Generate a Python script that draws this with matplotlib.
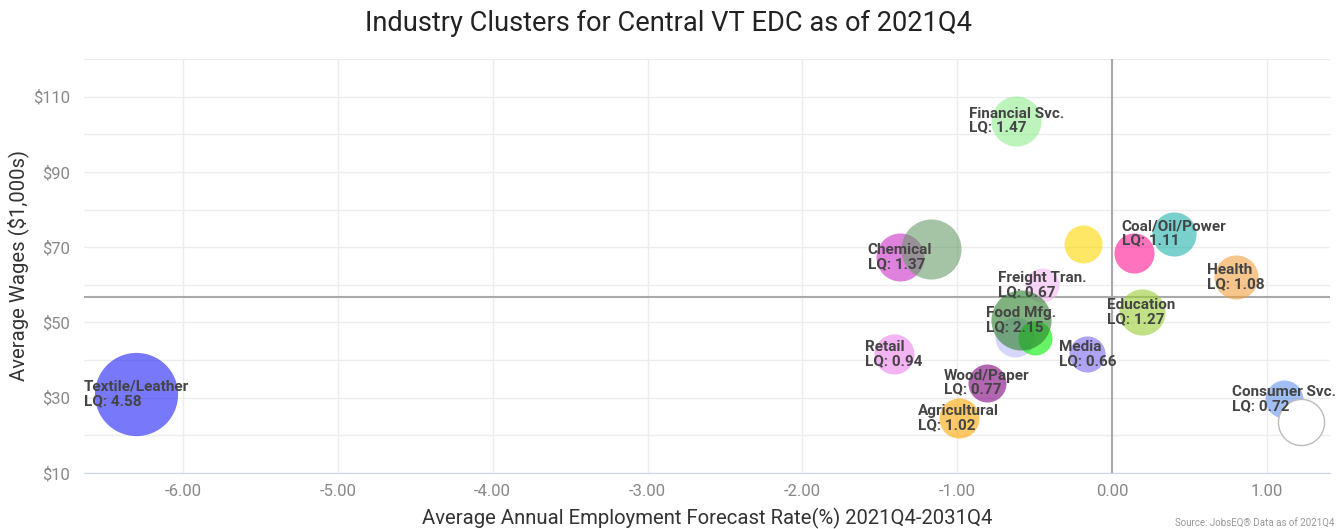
import numpy as np
import matplotlib
matplotlib.use("Agg")
import matplotlib.pyplot as plt
from matplotlib.ticker import FixedLocator, FuncFormatter

plt.rcParams['font.family'] = ['Roboto', 'DejaVu Sans']

# industry clusters: forecast growth (%), average wage ($1,000s), employment, location quotient
clusters = ["Textile/Leather", "Financial Svc.", "Chemical", "", "", "",
            "Coal/Oil/Power", "Health", "Freight Tran.", "", "", "Food Mfg.",
            "Education", "Retail", "Media", "Wood/Paper", "Agricultural",
            "Consumer Svc.", ""]
growth = [-6.30, -0.62, -1.37, -1.17, -0.19, 0.14,
          0.40, 0.80, -0.45, -0.63, -0.50, -0.59,
          0.19, -1.41, -0.16, -0.81, -0.99,
          1.11, 1.22]
wages = [31.0, 103.6, 67.4, 69.6, 70.9, 68.5,
         73.6, 62.1, 60.0, 46.2, 45.9, 50.7,
         52.8, 41.6, 41.6, 34.0, 24.6,
         29.7, 23.6]
employment = [3450, 1250, 1150, 1800, 720, 800,
              970, 970, 580, 800, 580, 1800,
              1060, 800, 650, 720, 800,
              720, 1060]
lq = [4.58, 1.47, 1.37, None, None, None,
      1.11, 1.08, 0.67, None, None, 2.15,
      1.27, 0.94, 0.66, 0.77, 1.02,
      0.72, None]
colors = ['#1e1ef7', '#90ee90', '#c82fc8', '#699b69', '#ffd700', '#ff1493',
          '#20b2aa', '#f0a040', '#f5bbf5', '#bcbcf7', '#00ee00', '#2a802a',
          '#9acd32', '#ee82ee', '#7b68ee', '#800080', '#ffa500',
          '#6495ed', 'white']

avg_wage = 56.8

fig = plt.figure(figsize=(13.37, 5.29), dpi=100)
ax = fig.add_axes([0.0628, 0.1059, 0.932, 0.7826])

for i in range(len(clusters)):
    if colors[i] == 'white':
        ax.scatter(growth[i], wages[i], s=employment[i] * 1.04, facecolor='white',
                   edgecolor='#bbbbbb', linewidth=1, zorder=3)
    else:
        ax.scatter(growth[i], wages[i], s=employment[i] * 1.04, color=colors[i],
                   alpha=0.6, linewidth=0, zorder=3)

for i, name in enumerate(clusters):
    if not name:
        continue
    ax.text(growth[i], wages[i], f"{name}\nLQ: {lq[i]:.2f}", ha='center', va='center',
            multialignment='left', fontsize=11, fontweight='bold', color='#444444',
            linespacing=1.0, zorder=5)

ax.axhline(avg_wage, color='#aaaaaa', linewidth=1.5, zorder=2)
ax.axvline(0, color='#aaaaaa', linewidth=1.5, zorder=2)

ax.set_xlim(-6.639, 1.407)
ax.set_ylim(10, 120)
ax.xaxis.set_major_locator(FixedLocator(np.arange(-6, 2, 1)))
ax.xaxis.set_major_formatter(FuncFormatter(lambda v, p: f"{v:.2f}"))
ax.yaxis.set_major_locator(FixedLocator(np.arange(10, 111, 20)))
ax.yaxis.set_minor_locator(FixedLocator(np.arange(20, 121, 20)))
ax.yaxis.set_major_formatter(FuncFormatter(lambda v, p: f"${v:.0f}"))

ax.grid(True, which='both', axis='y', color='#ececec', linewidth=1, zorder=0)
ax.grid(True, which='major', axis='x', color='#ececec', linewidth=1, zorder=0)
ax.set_axisbelow(True)
for side in ['top', 'right', 'left']:
    ax.spines[side].set_visible(False)
ax.spines['bottom'].set_color('#ccd6eb')
ax.tick_params(axis='both', which='both', length=0, labelsize=12, labelcolor='#888888')
ax.tick_params(axis='y', pad=10)
ax.tick_params(axis='x', pad=8)

ax.set_xlabel("Average Annual Employment Forecast Rate(%) 2021Q4-2031Q4", fontsize=14.6,
              color='#333333', labelpad=6)
ax.set_ylabel("Average Wages ($1,000s)", fontsize=14.6, color='#333333', labelpad=3)
fig.text(0.5, 0.956, "Industry Clusters for Central VT EDC as of 2021Q4", ha='center',
         va='center', fontsize=19.6, color='#222222')
fig.text(0.9985, 0.001, "Source: JobsEQ\u00ae Data as of 2021Q4", ha='right', va='bottom',
         fontsize=7, color='#999999')

fig.savefig("out.png", dpi=100)
